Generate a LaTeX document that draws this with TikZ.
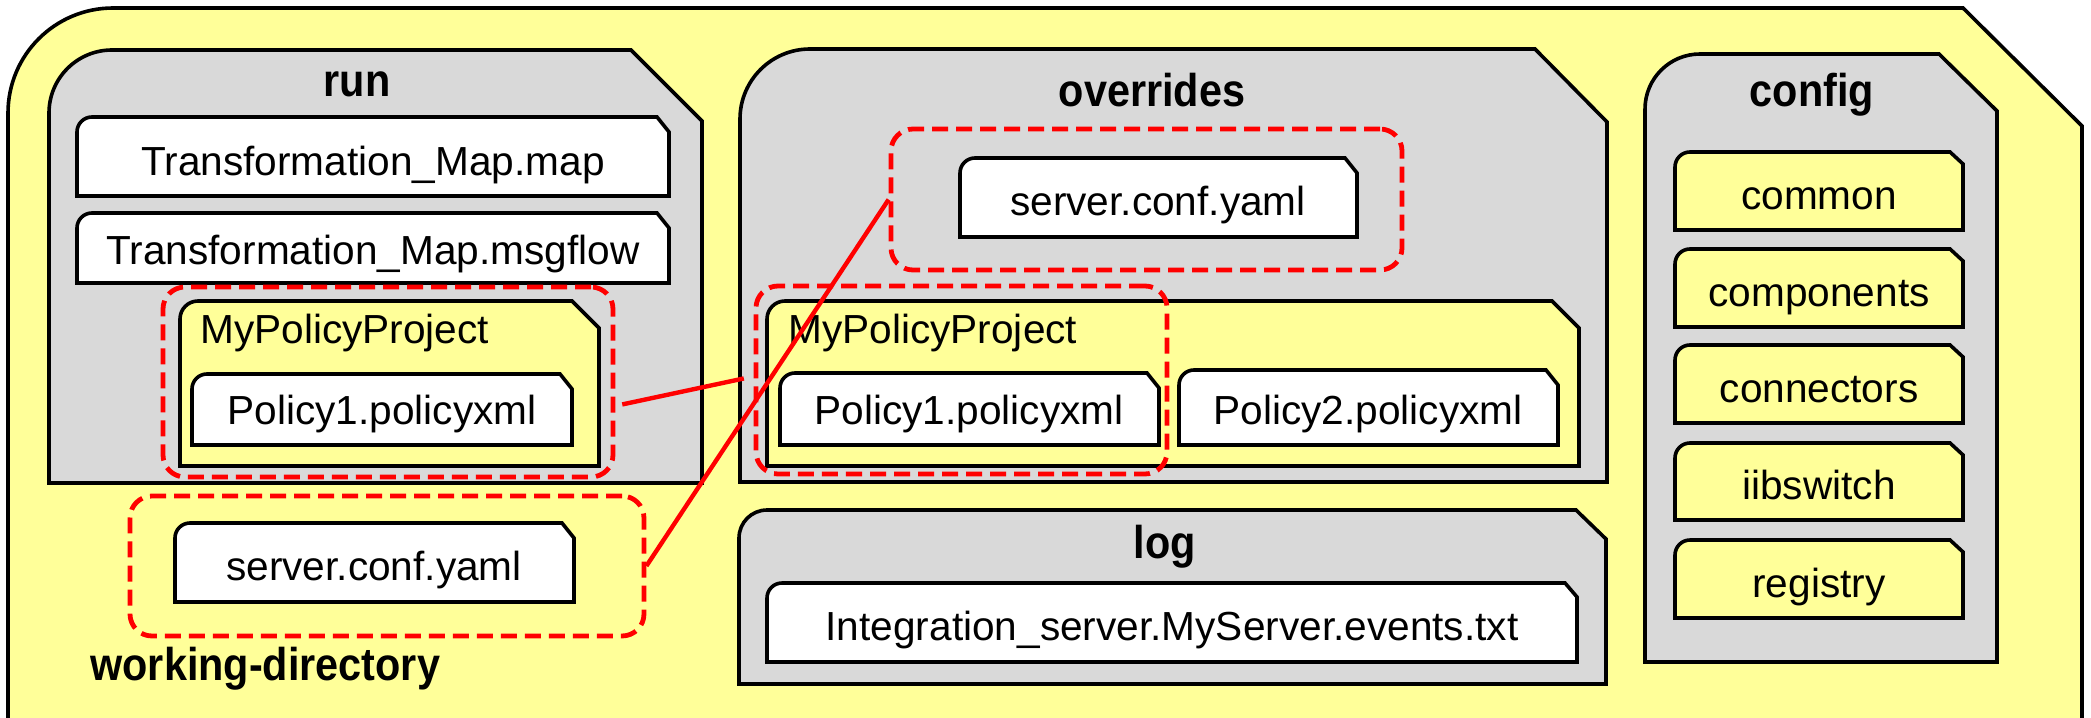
\documentclass[tikz,border=0pt]{standalone}
\usepackage{fontspec}
\setmainfont{Liberation Sans}
\newfontfamily\labelfont[FakeStretch=0.9]{Liberation Sans}
\usetikzlibrary{fit}
\definecolor{paleyellow}{RGB}{255,255,153}
\definecolor{foldergray}{RGB}{217,217,217}
\tikzset{
  folder/.style={draw=black, line width=1.8pt, fill=foldergray},
  subfolder/.style={draw=black, line width=1.8pt, fill=paleyellow},
  filebox/.style={draw=black, line width=1.8pt, fill=white},
  fname/.style={inner sep=0pt, anchor=base, font=\fontsize{20.3}{24}\selectfont},
  dirname/.style={inner sep=0pt, anchor=base, font=\labelfont\bfseries\fontsize{23}{27}\selectfont},
  hilite/.style={draw=red, line width=2.4pt, dash pattern=on 8pt off 4pt, rounded corners=11pt, inner sep=0pt},
  link/.style={draw=red, line width=2.2pt},
}
\begin{document}
\begin{tikzpicture}[x=0.5pt, y=-0.5pt]
\useasboundingbox (0,0) rectangle (2091,717);
\clip (0,0) rectangle (2091,717);

% working directory
\draw[subfolder] (8,760) -- (8,113) arc[start angle=180, end angle=270, radius=105] -- (1963,8) -- (2082,126) -- (2082,760) -- cycle;

% folders
\draw[folder] (49,483) -- (49,113) arc[start angle=180, end angle=270, radius=63] -- (631,50) -- (702,121) -- (702,483) -- cycle;
\draw[folder] (740,482) -- (740,119) arc[start angle=180, end angle=270, radius=70] -- (1535,49) -- (1607,122) -- (1607,482) -- cycle;
\draw[folder] (739,684) -- (739,538) arc[start angle=180, end angle=270, radius=28] -- (1576,510) -- (1606,539) -- (1606,684) -- cycle;
\draw[folder] (1645,662) -- (1645,109) arc[start angle=180, end angle=270, radius=55] -- (1939,54) -- (1997,111) -- (1997,662) -- cycle;

\draw[subfolder] (180,466) -- (180,319) arc[start angle=180, end angle=270, radius=18] -- (572,301) -- (599,328) -- (599,466) -- cycle;
\draw[subfolder] (767,466) -- (767,319) arc[start angle=180, end angle=270, radius=18] -- (1552,301) -- (1579,328) -- (1579,466) -- cycle;

\draw[subfolder] (1675,230) -- (1675,167) arc[start angle=180, end angle=270, radius=15] -- (1950,152) -- (1963,164) -- (1963,230) -- cycle;
\draw[subfolder] (1675,327) -- (1675,264) arc[start angle=180, end angle=270, radius=15] -- (1950,249) -- (1963,261) -- (1963,327) -- cycle;
\draw[subfolder] (1675,423) -- (1675,360) arc[start angle=180, end angle=270, radius=15] -- (1950,345) -- (1963,357) -- (1963,423) -- cycle;
\draw[subfolder] (1675,520) -- (1675,458) arc[start angle=180, end angle=270, radius=15] -- (1950,443) -- (1963,455) -- (1963,520) -- cycle;
\draw[subfolder] (1675,618) -- (1675,555) arc[start angle=180, end angle=270, radius=15] -- (1950,540) -- (1963,552) -- (1963,618) -- cycle;

% files
\draw[filebox] (77,196) -- (77,132) arc[start angle=180, end angle=270, radius=15] -- (657,117) -- (669,132) -- (669,196) -- cycle;
\draw[filebox] (77,283) -- (77,228) arc[start angle=180, end angle=270, radius=15] -- (657,213) -- (669,228) -- (669,283) -- cycle;
\draw[filebox] (192,445) -- (192,389) arc[start angle=180, end angle=270, radius=15] -- (560,374) -- (572,389) -- (572,445) -- cycle;
\draw[filebox] (175,602) -- (175,538) arc[start angle=180, end angle=270, radius=15] -- (562,523) -- (574,538) -- (574,602) -- cycle;
\draw[filebox] (960,237) -- (960,173) arc[start angle=180, end angle=270, radius=15] -- (1345,158) -- (1357,173) -- (1357,237) -- cycle;
\draw[filebox] (780,445) -- (780,388) arc[start angle=180, end angle=270, radius=15] -- (1147,373) -- (1159,388) -- (1159,445) -- cycle;
\draw[filebox] (1179,445) -- (1179,385) arc[start angle=180, end angle=270, radius=15] -- (1546,370) -- (1558,385) -- (1558,445) -- cycle;
\draw[filebox] (767,662) -- (767,598) arc[start angle=180, end angle=270, radius=15] -- (1565,583) -- (1577,597) -- (1577,662) -- cycle;

% labels
\node[dirname] (runlbl) at (357,97) {run};
\node[dirname] (ovlbl) at (1152,106) {overrides};
\node[dirname] (loglbl) at (1165,558) {log};
\node[dirname] (cfglbl) at (1812,106) {config};
\node[dirname, anchor=base west] (wdlbl) at (90,680) {working-directory};

\node[fname] (tmap) at (373,175) {Transformation\_Map.map};
\node[fname] (tflow) at (373,264) {Transformation\_Map.msgflow};
\node[fname, anchor=base west] (runpp) at (200,343) {MyPolicyProject};
\node[fname] (runpol) at (382,424) {Policy1.policyxml};
\node[fname] (wdsrv) at (374,580) {server.conf.yaml};
\node[fname] (ovsrv) at (1158,215) {server.conf.yaml};
\node[fname, anchor=base west] (ovpp) at (788,343) {MyPolicyProject};
\node[fname] (ovpol1) at (969,424) {Policy1.policyxml};
\node[fname] (ovpol2) at (1368,424) {Policy2.policyxml};
\node[fname] (logfile) at (1172,640) {Integration\_server.MyServer.events.txt};

\node[fname] (common) at (1819,209) {common};
\node[fname] (components) at (1819,306) {components};
\node[fname] (connectors) at (1819,402) {connectors};
\node[fname] (iibswitch) at (1819,499) {iibswitch};
\node[fname] (registry) at (1819,597) {registry};

% highlights
\node[hilite, fit={(163,287) (613,477)}] (runhl) {};
\node[hilite, fit={(756,286) (1167,474)}] (ovpphl) {};
\node[hilite, fit={(130,496) (644,636)}] (wdsrvhl) {};
\node[hilite, fit={(891,129) (1402,270)}] (ovsrvhl) {};

\draw[link, shorten <=3.5pt, shorten >=5pt] (runhl.-6) -- (ovpphl.179);
\draw[link] (wdsrvhl.east) -- (ovsrvhl.west);
\end{tikzpicture}
\end{document}
